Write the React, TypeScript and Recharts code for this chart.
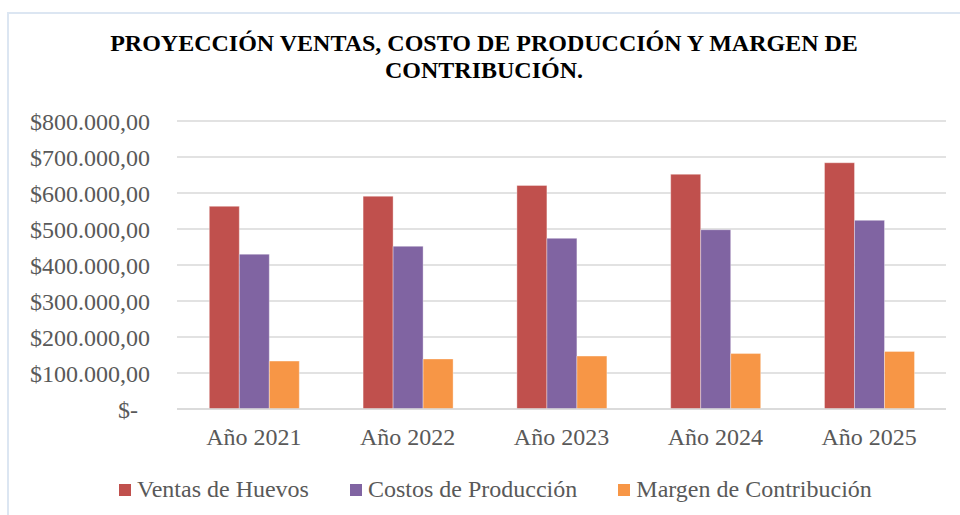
import React from 'react';
import { BarChart, Bar, XAxis, YAxis, CartesianGrid } from 'recharts';

const years = ['Año 2021', 'Año 2022', 'Año 2023', 'Año 2024', 'Año 2025'];
const ventas = [563000, 591000, 621000, 652000, 684000];
const costos = [430000, 452000, 474000, 498000, 524000];
const margen = [133000, 139000, 147000, 154000, 160000];
const yTicks = [0, 100000, 200000, 300000, 400000, 500000, 600000, 700000, 800000];

const series = [
  { key: 'ventas', name: 'Ventas de Huevos', color: '#c0504d' },
  { key: 'costos', name: 'Costos de Producción', color: '#8064a2' },
  { key: 'margen', name: 'Margen de Contribución', color: '#f79646' },
];

const data = years.map((year, i) => ({
  year,
  ventas: ventas[i],
  costos: costos[i],
  margen: margen[i],
}));

const FONT = '"Liberation Serif", "Times New Roman", serif';
const TEXT = '#595959';

const formatMoney = (v: number) => {
  if (v === 0) return '$-\u2002';
  const s = Math.round(v).toString().replace(/\B(?=(\d{3})+(?!\d))/g, '.');
  return `$${s},00`;
};

export default function App() {
  return (
    <div
      style={{
        position: 'absolute',
        top: 0,
        left: 0,
        width: 960,
        height: 515,
        overflow: 'hidden',
        background: '#ffffff',
        fontFamily: FONT,
      }}
    >
      <div
        style={{
          position: 'absolute',
          left: 7,
          top: 12,
          width: 980,
          height: 530,
          border: '2px solid #dce6f2',
        }}
      />
      <div
        style={{
          position: 'absolute',
          left: 40,
          top: 30,
          width: 888,
          textAlign: 'center',
          fontWeight: 'bold',
          fontSize: 24,
          lineHeight: '27px',
          color: '#000000',
        }}
      >
        PROYECCIÓN VENTAS, COSTO DE PRODUCCIÓN Y MARGEN DE
        <br />
        CONTRIBUCIÓN.
      </div>

      <div style={{ position: 'absolute', left: 0, top: 0 }}>
        <BarChart
          width={960}
          height={515}
          data={data}
          margin={{ top: 121, right: 14, bottom: 76, left: 0 }}
          barCategoryGap="21%"
          barGap={0}
        >
          <CartesianGrid vertical={false} stroke="#d9d9d9" strokeWidth={1.5} />
          <XAxis
            dataKey="year"
            tickLine={false}
            axisLine={{ stroke: '#d9d9d9', strokeWidth: 1.5 }}
            tickMargin={13}
            tick={{ fill: TEXT, fontSize: 24, fontFamily: FONT }}
            interval={0}
          />
          <YAxis
            width={177}
            domain={[0, 800000]}
            ticks={yTicks}
            tickFormatter={formatMoney}
            tickLine={false}
            axisLine={false}
            tickMargin={21}
            tick={{ fill: TEXT, fontSize: 24, fontFamily: FONT }}
          />
          {series.map((s) => (
            <Bar
              key={s.key}
              dataKey={s.key}
              name={s.name}
              fill={s.color}
              stroke="rgba(255,255,255,0.35)"
              strokeWidth={1}
              isAnimationActive={false}
            />
          ))}
        </BarChart>
      </div>

      <div
        style={{
          position: 'absolute',
          left: 119,
          top: 476,
          display: 'flex',
          alignItems: 'center',
          gap: 41,
          fontSize: 24,
          color: TEXT,
          whiteSpace: 'nowrap',
        }}
      >
        {series.map((s) => (
          <div key={s.key} style={{ display: 'flex', alignItems: 'center' }}>
            <div style={{ width: 12, height: 12, background: s.color, marginRight: 6 }} />
            <span>{s.name}</span>
          </div>
        ))}
      </div>
    </div>
  );
}
